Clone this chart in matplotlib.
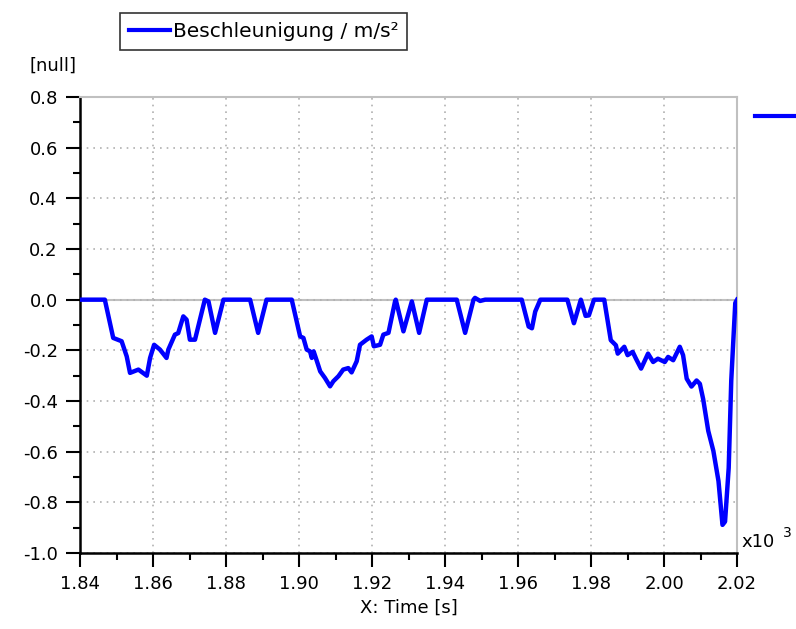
import matplotlib
matplotlib.use('Agg')
import matplotlib.pyplot as plt
from matplotlib.lines import Line2D
from matplotlib.ticker import MultipleLocator, FormatStrFormatter

plt.rcParams['axes.unicode_minus'] = False

# time in 10^3 s, acceleration values
time = [1.8400, 1.8468, 1.8491, 1.8514, 1.8528, 1.8537, 1.8560, 1.8583, 1.8592,
        1.8603, 1.8619, 1.8637, 1.8642, 1.8660, 1.8669, 1.8683, 1.8692, 1.8701,
        1.8715, 1.8742, 1.8752, 1.8770, 1.8793, 1.8866, 1.8888, 1.8911, 1.8980,
        1.9003, 1.9012, 1.9021, 1.9030, 1.9035, 1.9040, 1.9049, 1.9058, 1.9071,
        1.9085, 1.9094, 1.9108, 1.9121, 1.9135, 1.9144, 1.9158, 1.9167, 1.9185,
        1.9199, 1.9205, 1.9222, 1.9231, 1.9245, 1.9263, 1.9265, 1.9286, 1.9309,
        1.9329, 1.9350, 1.9432, 1.9455, 1.9478, 1.9482, 1.9496, 1.9510, 1.9610,
        1.9629, 1.9638, 1.9647, 1.9661, 1.9735, 1.9753, 1.9772, 1.9785, 1.9794,
        1.9808, 1.9836, 1.9854, 1.9868, 1.9873, 1.9891, 1.9900, 1.9914, 1.9923,
        1.9937, 1.9956, 1.9970, 1.9983, 2.0002, 2.0011, 2.0025, 2.0043, 2.0052,
        2.0062, 2.0075, 2.0089, 2.0098, 2.0107, 2.0121, 2.0135, 2.0149, 2.0160,
        2.0167, 2.0177, 2.0184, 2.0195, 2.0200]
accel = [0.0, 0.0, -0.151, -0.164, -0.224, -0.289, -0.276, -0.300, -0.230,
         -0.178, -0.197, -0.230, -0.197, -0.138, -0.132, -0.066, -0.079, -0.158,
         -0.158, 0.0, -0.007, -0.131, 0.0, 0.0, -0.131, 0.0, 0.0,
         -0.145, -0.151, -0.197, -0.204, -0.230, -0.204, -0.243, -0.283, -0.309,
         -0.342, -0.322, -0.302, -0.276, -0.270, -0.287, -0.243, -0.178, -0.158,
         -0.145, -0.184, -0.178, -0.138, -0.131, -0.007, 0.0, -0.125, -0.007,
         -0.131, 0.0, 0.0, -0.131, 0.0, 0.007, -0.005, 0.0, 0.0,
         -0.106, -0.113, -0.047, 0.0, 0.0, -0.093, 0.0, -0.064, -0.062,
         0.0, 0.0, -0.160, -0.180, -0.213, -0.186, -0.219, -0.206, -0.233,
         -0.272, -0.213, -0.246, -0.233, -0.246, -0.226, -0.239, -0.186, -0.219,
         -0.312, -0.343, -0.319, -0.332, -0.392, -0.518, -0.597, -0.716, -0.889,
         -0.876, -0.664, -0.319, -0.013, 0.0]

fig = plt.figure(figsize=(7.96, 6.29), dpi=100)
ax = fig.add_axes([0.1005, 0.1208, 0.8255, 0.725])

ax.plot(time, accel, c='#0000ff', lw=3.2, solid_joinstyle='round', zorder=3)
ax.axhline(0, color='#c0c0c0', lw=1.5, zorder=1)

ax.set_xlim(1.84, 2.02)
ax.set_ylim(-1.0, 0.8)
ax.xaxis.set_major_locator(MultipleLocator(0.02))
ax.xaxis.set_minor_locator(MultipleLocator(0.01))
ax.yaxis.set_major_locator(MultipleLocator(0.2))
ax.yaxis.set_minor_locator(MultipleLocator(0.1))
ax.xaxis.set_major_formatter(FormatStrFormatter('%.2f'))
ax.yaxis.set_major_formatter(FormatStrFormatter('%.1f'))
ax.grid(True, which='major', color='#b0b0b0', linestyle=(0, (1, 3)), lw=1.2)

ax.tick_params(axis='both', which='major', labelsize=13, length=10, width=1.5, direction='out')
ax.tick_params(axis='y', which='major', pad=6)
ax.tick_params(axis='x', which='major', pad=6)
ax.tick_params(axis='both', which='minor', length=5, width=1.5, direction='out')
for side in ['top', 'right']:
    ax.spines[side].set_color('#c0c0c0')
    ax.spines[side].set_linewidth(1.5)
for side in ['left', 'bottom']:
    ax.spines[side].set_color('black')
    ax.spines[side].set_linewidth(1.8)

ax.set_xlabel('X: Time [s]', fontsize=13, labelpad=4)
fig.text(0.037, 0.896, '[null]', fontsize=13, ha='left', va='center')
fig.text(0.932, 0.139, 'x10', fontsize=13, ha='left', va='center')
fig.text(0.983, 0.152, '3', fontsize=10, ha='left', va='center')

leg = ax.legend([Line2D([0], [0], c='#0000ff', lw=3)], ['Beschleunigung / m/s²'],
                loc='lower left', bbox_to_anchor=(0.151, 0.921), bbox_transform=fig.transFigure,
                fontsize=14.5, frameon=True, fancybox=False, handlelength=2.0,
                handletextpad=0.15, borderpad=0.45, borderaxespad=0)
leg.get_frame().set_edgecolor('black')
leg.get_frame().set_linewidth(1.2)

fig.add_artist(Line2D([0.948, 0.999], [0.815, 0.815], color='#0000ff', lw=3,
                      transform=fig.transFigure))

fig.savefig('out.png', dpi=100)
